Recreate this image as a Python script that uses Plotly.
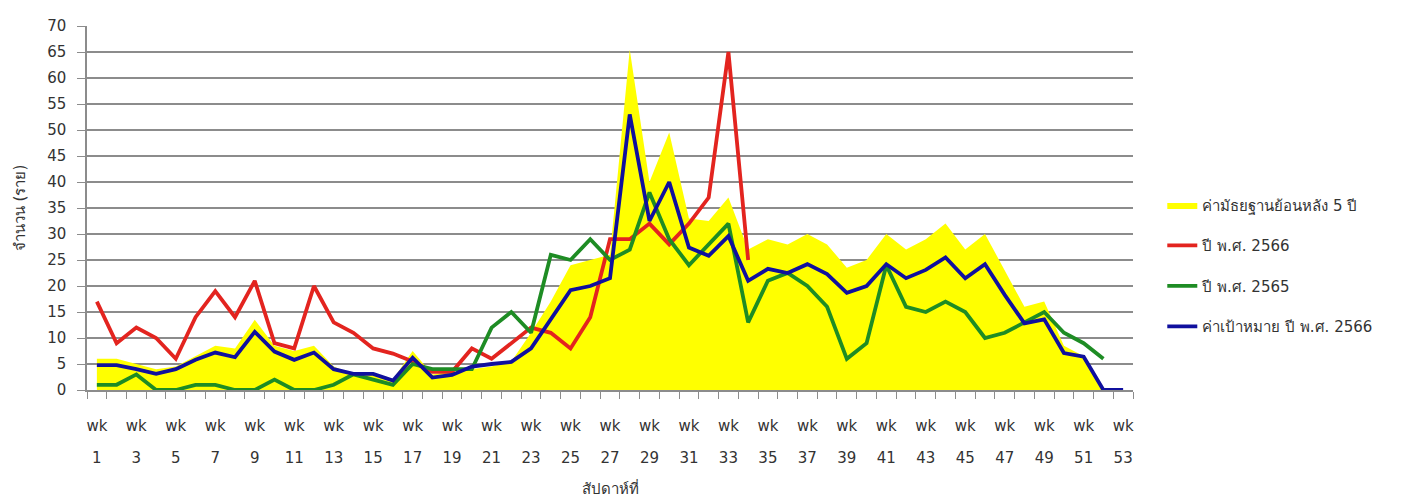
import plotly.graph_objects as go

weeks = list(range(1, 54))
tick_weeks = list(range(1, 54, 2))
tick_top = ["wk"] * len(tick_weeks)
tick_bottom = [str(w) for w in tick_weeks]

median5 = [6, 6, 5, 4, 4.5, 6.5, 8.5, 8, 13.5, 8.5, 7.5, 8.5, 4.5, 3, 3, 2, 7.5, 3, 3.5, 4,
           4.5, 5.5, 11, 17, 24, 25, 26, 65.5, 40, 49.5, 33, 32.5, 37, 27, 29, 28, 30, 28, 23.5, 25,
           30, 27, 29, 32, 27, 30, 23, 16, 17, 8.5, 6.5, 0, 0]
y2566 = [17, 9, 12, 10, 6, 14, 19, 14, 21, 9, 8, 20, 13, 11, 8, 7, 5.5, 3.5, 3.5, 8,
         6, 9, 12, 11, 8, 14, 29, 29, 32, 28, 32, 37, 65, 25]
y2565 = [1, 1, 3, 0, 0, 1, 1, 0, 0, 2, 0, 0, 1, 3, 2, 1, 5, 4, 4, 4,
         12, 15, 11, 26, 25, 29, 25, 27, 38, 29, 24, 28, 32, 13, 21, 22.5, 20, 16, 6, 9,
         24, 16, 15, 17, 15, 10, 11, 13, 15, 11, 9, 6]
target2566 = [4.8, 4.8, 4, 3.1, 4, 5.8, 7.2, 6.3, 11.2, 7.4, 5.8, 7.2, 4, 3.1, 3.1, 1.8, 6.2, 2.4, 2.9, 4.5,
              5, 5.4, 8, 13.5, 19.2, 20, 21.5, 53, 32.5, 40, 27.4, 25.8, 29.6, 21, 23.3, 22.5, 24.2, 22.3, 18.7, 20,
              24.2, 21.5, 23.1, 25.5, 21.5, 24.2, 18.3, 12.8, 13.6, 7.1, 6.4, 0, 0]

names = ["ค่ามัธยฐานย้อนหลัง 5 ปี", "ปี พ.ศ. 2566", "ปี พ.ศ. 2565", "ค่าเป้าหมาย ปี พ.ศ. 2566"]

FONT = "Tahoma, 'DejaVu Sans', sans-serif"
GRID = "#8c8c8c"

fig = go.Figure()
fig.add_trace(go.Scatter(x=weeks, y=median5, mode="lines", fill="tozeroy",
                         fillcolor="#FFFF00", line=dict(color="#FFFF00", width=0),
                         name=names[0], legendgroup="g1"))
fig.add_trace(go.Scatter(x=weeks[:len(y2566)], y=y2566, mode="lines",
                         line=dict(color="#E3241F", width=3.8), name=names[1], legendgroup="g2"))
fig.add_trace(go.Scatter(x=weeks[:len(y2565)], y=y2565, mode="lines",
                         line=dict(color="#1E8C24", width=3.8), name=names[2], legendgroup="g3"))
fig.add_trace(go.Scatter(x=weeks, y=target2566, mode="lines", xaxis="x2",
                         line=dict(color="#10109E", width=3.8), name=names[3], legendgroup="g4"))

fig.update_layout(
    width=1413, height=500,
    margin=dict(l=79, r=288, t=18, b=118),
    paper_bgcolor="white", plot_bgcolor="white",
    font=dict(family=FONT, size=15, color="#333333"),
    showlegend=True,
    legend=dict(x=1.028, y=0.553, xanchor="left", yanchor="top",
                font=dict(size=15, color="#333333"), tracegroupgap=18,
                bgcolor="rgba(0,0,0,0)"),
    xaxis=dict(type="linear", range=[0.5, 53.5], tickmode="array",
               tickvals=tick_weeks, ticktext=tick_top, ticks="",
               showgrid=False, zeroline=False, showline=True, automargin=False,
               linecolor=GRID, linewidth=1.5, ticklabelstandoff=21,
               minor=dict(ticks="outside", ticklen=7, tickcolor=GRID, tickwidth=1,
                          tick0=0.5, dtick=1, showgrid=False),
               tickfont=dict(size=15)),
    xaxis2=dict(type="linear", range=[0.5, 53.5], overlaying="x", anchor="y", side="bottom",
                tickmode="array", tickvals=tick_weeks, ticktext=tick_bottom, ticks="",
                showgrid=False, zeroline=False, showline=False, automargin=False,
                ticklabelstandoff=57, tickfont=dict(size=15),
                title=dict(text="สัปดาห์ที่", font=dict(size=15), standoff=17)),
    yaxis=dict(range=[0, 70], dtick=5, tick0=0, showgrid=True, gridcolor=GRID, gridwidth=1.5,
               ticks="outside", ticklen=8, tickcolor=GRID, showline=True, linecolor=GRID,
               linewidth=1.5, zeroline=False, tickfont=dict(size=15), automargin=False,
               ticklabelstandoff=8,
               title=dict(text="จำนวน (ราย)", font=dict(size=15), standoff=18)),
)

fig.write_html("out.html")
